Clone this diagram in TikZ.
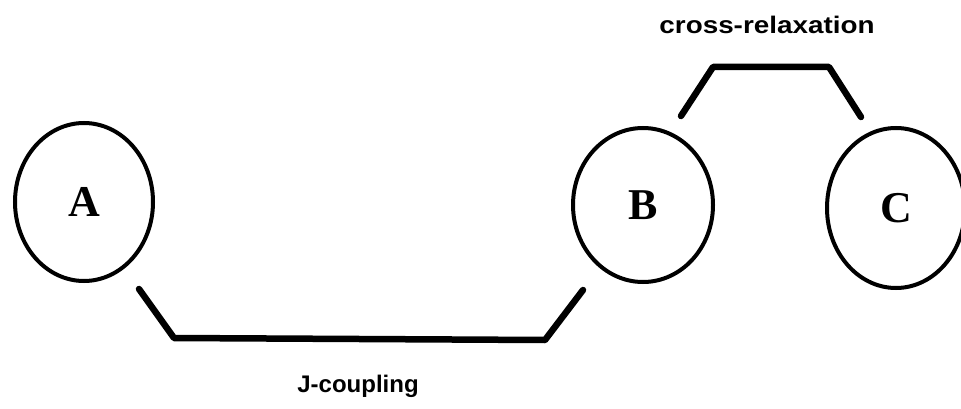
\documentclass[tikz,border=0pt]{standalone}
\usepackage{fontspec}
\setmainfont{Liberation Serif}
\newfontfamily\labelfont{Liberation Sans}
\usetikzlibrary{shapes.geometric}
\begin{document}
\begin{tikzpicture}[x=1pt,y=-1pt,
  spin/.style={ellipse,draw,line width=4pt,inner sep=0pt,
    font=\fontsize{44}{44}\selectfont\bfseries},
  link/.style={line width=6.5pt,line cap=round,line join=round},
  lbl/.style={anchor=base,inner sep=0pt,font=\labelfont\bfseries\fontsize{24}{24}\selectfont}]
\useasboundingbox (0,0) rectangle (961,409);
\node[spin,minimum width=138pt,minimum height=158pt] (A) at (84,202) {A};
\node[spin,minimum width=140pt,minimum height=154pt] (B) at (643,205) {B};
\node[spin,minimum width=138pt,minimum height=160pt] (C) at (896,208) {C};
% J-coupling connector
\coordinate (j1) at (139,289);
\coordinate (j2) at (174,338);
\coordinate (j3) at (545,340);
\coordinate (j4) at (583,290);
\draw[link] (j1) -- (j2) -- (j3) -- (j4);
% cross-relaxation connector
\coordinate (c1) at (681,116);
\coordinate (c2) at (713,67);
\coordinate (c3) at (829,67);
\coordinate (c4) at (861,117);
\draw[link] (c1) -- (c2) -- (c3) -- (c4);
\node[lbl,xscale=1.0] (jl) at (358,392) {J-coupling};
\node[lbl,xscale=1.16] (cl) at (767,34) {cross-relaxation};
\end{tikzpicture}
\end{document}
